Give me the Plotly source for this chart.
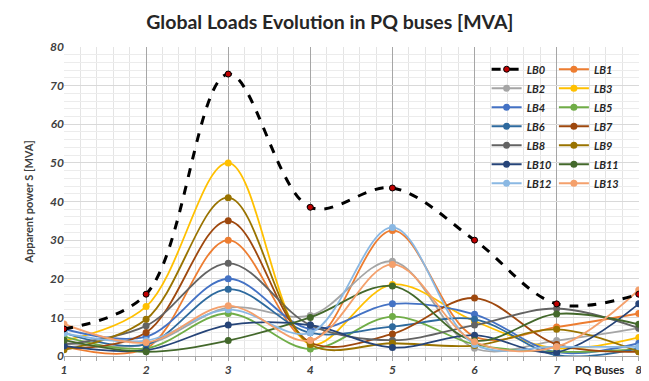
import plotly.graph_objects as go

buses = [1, 2, 3, 4, 5, 6, 7, 8]
x_tick_labels = ["1", "2", "3", "4", "5", "6", "7", "8"]

LB0 = [7, 16, 73, 38.5, 43.5, 30, 13.5, 16]
LB1 = [2.5, 2, 30, 4, 32.5, 5, 7.5, 11]
LB2 = [3.3, 3, 12.5, 10.5, 24.5, 2, 4, 7.2]
LB3 = [4, 12.8, 50, 3, 18.5, 9, 2, 4.8]
LB4 = [7, 5, 20, 7, 13.5, 10.8, 1, 3.3]
LB5 = [5, 2, 11, 1.8, 10.2, 3, 1.1, 1.8]
LB6 = [6, 3, 17.3, 6, 7.6, 9.5, 0.2, 2]
LB7 = [2, 6.1, 35, 3.5, 5.7, 15, 3, 1.1]
LB8 = [3, 7.8, 24, 8, 4.1, 8, 12.3, 7.2]
LB9 = [1.6, 9.5, 41, 3, 3.3, 2.7, 6.9, 1.1]
LB10 = [2.6, 1.5, 8, 8, 2.2, 5.4, 1, 13.5]
LB11 = [4.1, 1.1, 4, 10, 18.1, 4, 10.9, 8.2]
LB12 = [5.9, 4, 12, 6, 33.3, 3, 2.4, 2.4]
LB13 = [8.3, 3.5, 13, 4, 23.7, 3.7, 2.4, 17.1]

series = [
    ("LB1", LB1, "#ED7D31"),
    ("LB2", LB2, "#A5A5A5"),
    ("LB3", LB3, "#FFC000"),
    ("LB4", LB4, "#4472C4"),
    ("LB5", LB5, "#70AD47"),
    ("LB6", LB6, "#2E6A9E"),
    ("LB7", LB7, "#9E480E"),
    ("LB8", LB8, "#636363"),
    ("LB9", LB9, "#997300"),
    ("LB10", LB10, "#264478"),
    ("LB11", LB11, "#43682B"),
    ("LB12", LB12, "#8AB8E3"),
    ("LB13", LB13, "#F4A06C"),
]

FONT = "Lato"
fig = go.Figure()

for i, (name, vals, col) in enumerate(series):
    idx = i + 1
    fig.add_trace(go.Scatter(
        x=buses, y=vals, name="<i><b>%s</b></i>" % name, mode="lines+markers",
        line=dict(color=col, width=1.8, shape="spline", smoothing=1.0),
        marker=dict(color=col, size=7),
        legend="legend" if idx % 2 == 0 else "legend2",
        legendrank=idx,
    ))

fig.add_trace(go.Scatter(
    x=buses, y=LB0, name="<i><b>LB0</b></i>", mode="lines+markers",
    line=dict(color="black", width=3, dash="dash", shape="spline", smoothing=1.0),
    marker=dict(color="#C00000", size=6, line=dict(color="black", width=1)),
    legend="legend", legendrank=0,
))

legend_font = dict(family=FONT, size=11, color="#262626")
# The page body adds an 8 px offset, so the figure is sized to fit the window.
fig.update_layout(
    width=641, height=373,
    paper_bgcolor="white", plot_bgcolor="white",
    margin=dict(l=56, r=10, t=39, b=25),
    title=dict(text="<b>Global Loads Evolution in PQ buses [MVA]</b>",
               x=0.502, xanchor="center", y=0.962, yanchor="middle",
               font=dict(family=FONT, size=19.5, color="#262626")),
    legend=dict(x=0.735, y=0.975, xanchor="left", yanchor="top",
                bgcolor="rgba(0,0,0,0)", font=legend_font,
                itemwidth=30, tracegroupgap=0),
    legend2=dict(x=0.852, y=0.975, xanchor="left", yanchor="top",
                 bgcolor="rgba(0,0,0,0)", font=legend_font,
                 itemwidth=30, tracegroupgap=0),
    showlegend=True,
)

fig.update_xaxes(
    range=[1, 8.003], tickvals=buses, ticktext=["<i><b>%s</b></i>" % t for t in x_tick_labels],
    tickfont=dict(family=FONT, size=12, color="#404040"),
    showgrid=True, gridcolor="#A6A6A6", gridwidth=1,
    showline=True, linecolor="#A6A6A6",
    ticks="", zeroline=False, automargin=False,
    ticklabelstandoff=3,
    minor=dict(dtick=0.2, tick0=1, showgrid=True, gridcolor="#E4E4E4",
               ticks="outside", ticklen=4, tickcolor="#A6A6A6"),
)
fig.update_yaxes(
    range=[0, 80], dtick=10,
    tickvals=[0, 10, 20, 30, 40, 50, 60, 70, 80],
    ticktext=["<i><b>%d</b></i>" % v for v in [0, 10, 20, 30, 40, 50, 60, 70, 80]],
    tickfont=dict(family=FONT, size=12, color="#404040"),
    showgrid=True, gridcolor="#D9D9D9",
    showline=False, zeroline=False, ticks="", automargin=False,
    ticklabelstandoff=-1,
    minor=dict(dtick=2, showgrid=True, gridcolor="#ECECEC"),
    title=dict(text="<b>Apparent power S [MVA]</b>",
               font=dict(family=FONT, size=11, color="#404040"), standoff=14),
)

fig.add_annotation(text="<b>PQ Buses</b>", xref="paper", yref="paper",
                   x=0.977, y=-0.045, xanchor="right", yanchor="middle",
                   showarrow=False, font=dict(family=FONT, size=11.5, color="#262626"))

fig.write_html("out.html")
